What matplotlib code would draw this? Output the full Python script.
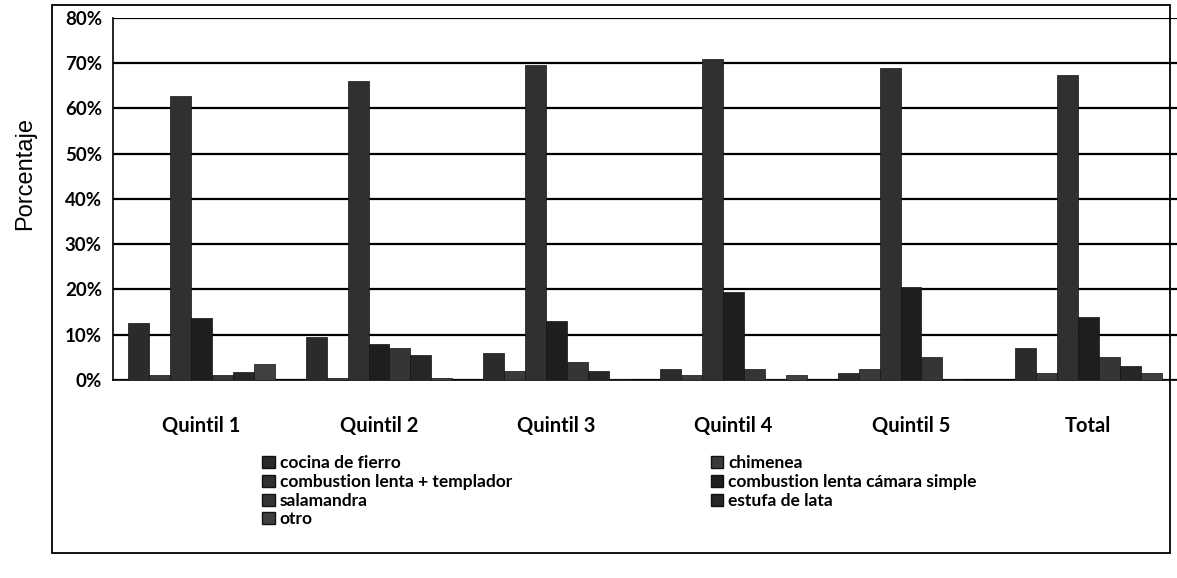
import numpy as np
import matplotlib
matplotlib.use('Agg')
import matplotlib.pyplot as plt
from matplotlib.patches import Rectangle, Patch

# categories and series (percent)
categorias = ['Quintil 1', 'Quintil 2', 'Quintil 3', 'Quintil 4', 'Quintil 5', 'Total']
series = ['cocina de fierro', 'chimenea', 'combustion lenta + templador',
          'combustion lenta cámara simple', 'salamandra', 'estufa de lata', 'otro']

cocina_fierro = [12.5, 9.5, 6.0, 2.5, 1.5, 7.0]
chimenea = [1.2, 0.5, 2.0, 1.0, 2.5, 1.5]
comb_templador = [62.7, 66.0, 69.5, 71.0, 69.0, 67.5]
comb_camara = [13.6, 8.0, 13.0, 19.5, 20.5, 14.0]
salamandra = [1.0, 7.0, 4.0, 2.5, 5.0, 5.0]
estufa_lata = [1.7, 5.5, 2.0, 0.2, 0.2, 3.0]
otro = [3.5, 0.5, 0.3, 1.0, 0.1, 1.5]

valores = [cocina_fierro, chimenea, comb_templador, comb_camara,
           salamandra, estufa_lata, otro]
colores = ['#2b2b2b', '#3a3a3a', '#303030', '#1e1e1e', '#353535', '#262626', '#404040']

fig = plt.figure(figsize=(11.77, 5.78), dpi=100)
ax = fig.add_axes([0.096, 0.3426, 0.904, 0.6263])

x = np.arange(len(categorias))
w = 0.118
for i, (vals, c) in enumerate(zip(valores, colores)):
    ax.bar(x + (i - 3) * w, vals, width=w, color=c, edgecolor='#111111',
           linewidth=0.5, zorder=3, label=series[i])

ax.set_ylim(0, 80)
ax.set_xlim(-0.5, len(categorias) - 0.5)
ax.set_yticks(np.arange(0, 81, 10))
ax.set_yticklabels(['%d%%' % v for v in range(0, 81, 10)],
                   fontweight='bold', fontsize=13.5, family='Lato')
ax.set_xticks(x)
ax.set_xticklabels(categorias, fontweight='bold', fontsize=14.5, family='Lato')
ax.tick_params(axis='x', length=0, pad=26)
ax.tick_params(axis='y', length=0, pad=8)
ax.yaxis.grid(True, color='black', linewidth=1.6, zorder=0)
ax.set_axisbelow(True)
for s in ['top', 'right']:
    ax.spines[s].set_visible(False)
ax.spines['left'].set_linewidth(1.2)
ax.spines['bottom'].set_linewidth(1.2)

fig.text(0.021, 0.70, 'Porcentaje', rotation=90, fontsize=17,
         family='Liberation Sans', ha='center', va='center')

# legend in two columns as in the original layout
handles = [Patch(facecolor=c, edgecolor='#111111') for c in colores]
col1 = [0, 2, 4, 6]
col2 = [1, 3, 5]
kw = dict(frameon=False, prop={'family': 'Lato', 'size': 12.5, 'weight': 'bold'},
          handlelength=0.7, handleheight=0.7, handletextpad=0.3,
          labelspacing=0.15, borderaxespad=0)
leg1 = fig.legend([handles[i] for i in col1], [series[i] for i in col1],
                  loc='upper left', bbox_to_anchor=(0.217, 0.224), **kw)
leg2 = fig.legend([handles[i] for i in col2], [series[i] for i in col2],
                  loc='upper left', bbox_to_anchor=(0.598, 0.224), **kw)

# outer frame of the chart
fig.patches.append(Rectangle((0.044, 0.043), 0.95, 0.948, transform=fig.transFigure,
                             fill=False, edgecolor='black', linewidth=1.3))

fig.savefig('out.png', dpi=100)
